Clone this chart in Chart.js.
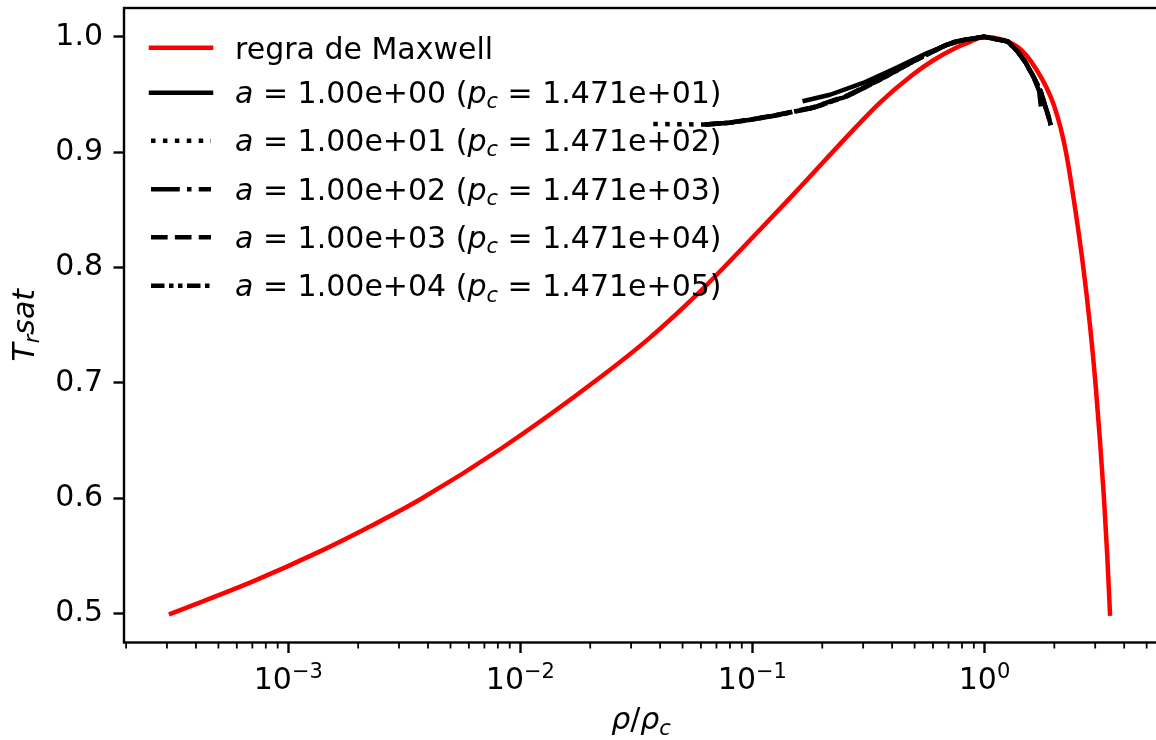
<!DOCTYPE html>
<html>
<head>
<meta charset="utf-8">
<script src="https://cdn.jsdelivr.net/npm/chart.js@4/dist/chart.umd.min.js"></script>
<style>
  html, body { margin: 0; padding: 0; background: #ffffff; overflow: hidden; }
  #wrap { width: 1162px; height: 740px; }
</style>
</head>
<body>
<div id="wrap"><canvas id="c" width="1162" height="740"></canvas></div>
<script>
// Saturation curve (Maxwell construction), reduced density rho/rho_c vs reduced temperature
const RHO_MAXWELL = [3.124e-4, 7.046e-4, 1.370e-3, 2.249e-3, 3.694e-3, 8.334e-3, 2.203e-2, 3.619e-2, 5.941e-2,
  0.1057, 0.1556, 0.2556, 0.3546, 0.4918, 0.5999, 0.7613, 0.8660, 1.0,
  1.121, 1.263, 1.401, 1.517, 1.684, 1.850, 1.993, 2.126, 2.247, 2.466, 2.666, 2.849, 3.009, 3.145, 3.273, 3.382, 3.474];
const T_MAXWELL = [0.5000, 0.5280, 0.5540, 0.5756, 0.5990, 0.6436, 0.7047, 0.7393, 0.7791,
  0.8311, 0.8667, 0.9135, 0.9430, 0.9673, 0.9795, 0.9909, 0.9957, 1.0,
  0.9987, 0.9960, 0.9908, 0.9838, 0.9708, 0.9561, 0.9405, 0.9214, 0.8997, 0.8494, 0.8000, 0.7497, 0.6995, 0.6501, 0.5999, 0.5496, 0.5000];

// Simulated coexistence densities for each value of a
const RHO_A1E0 = [0.168, 0.216, 0.30, 0.415, 0.56, 0.75, 1.0, 1.26, 1.38, 1.50, 1.62, 1.72, 1.745];
const T_A1E0   = [0.9446, 0.9498, 0.9600, 0.9730, 0.9855, 0.9960, 1.0, 0.9960, 0.9880, 0.9780, 0.9660, 0.9530, 0.9416];

const RHO_A1E1 = [0.0374, 0.050, 0.0625, 0.080, 0.0975, 0.1315, 0.183, 0.255, 0.355, 0.493, 0.687, 0.82, 1.0,
  1.26, 1.38, 1.50, 1.62, 1.745, 1.82, 1.88, 1.93];
const T_A1E1   = [0.9245, 0.9242, 0.9240, 0.9255, 0.9280, 0.9325, 0.9385, 0.9484, 0.9628, 0.9786, 0.9931, 0.9975, 1.0,
  0.9960, 0.9880, 0.9780, 0.9660, 0.9530, 0.9410, 0.9320, 0.9235];

const RHO_A1E2 = [0.0625, 0.080, 0.0975, 0.1315, 0.183, 0.255, 0.355, 0.493, 0.687, 0.82, 1.0,
  1.26, 1.38, 1.50, 1.62, 1.745, 1.82, 1.88, 1.93];
const T_A1E2   = [0.9240, 0.9255, 0.9280, 0.9325, 0.9385, 0.9484, 0.9628, 0.9786, 0.9931, 0.9975, 1.0,
  0.9960, 0.9880, 0.9780, 0.9660, 0.9530, 0.9410, 0.9320, 0.9235];

const RHO_A1E3 = [0.0625, 0.080, 0.0975, 0.1315, 0.183, 0.255, 0.355, 0.493, 0.687, 0.82, 1.0,
  1.26, 1.38, 1.50, 1.62, 1.745, 1.82, 1.88, 1.93];
const T_A1E3   = [0.9241, 0.9257, 0.9283, 0.9330, 0.9390, 0.9490, 0.9634, 0.9790, 0.9933, 0.9976, 1.0,
  0.9960, 0.9881, 0.9782, 0.9662, 0.9532, 0.9412, 0.9322, 0.9236];

const RHO_A1E4 = [0.0625, 0.080, 0.0975, 0.1315, 0.183, 0.255, 0.355, 0.493, 0.687, 0.82, 1.0,
  1.26, 1.38, 1.50, 1.62, 1.745, 1.82, 1.88, 1.93];
const T_A1E4   = [0.9240, 0.9256, 0.9281, 0.9327, 0.9387, 0.9486, 0.9630, 0.9787, 0.9932, 0.9975, 1.0,
  0.9960, 0.9880, 0.9781, 0.9661, 0.9531, 0.9411, 0.9321, 0.9235];

// Legend text pieces
const MAXWELL_LABEL = 'regra de Maxwell';
const A_LABELS  = ['1.00e+00', '1.00e+01', '1.00e+02', '1.00e+03', '1.00e+04'];
const PC_LABELS = ['1.471e+01', '1.471e+02', '1.471e+03', '1.471e+04', '1.471e+05'];

// Axis ticks
const X_TICKS = [1e-3, 1e-2, 1e-1, 1];
const X_TICK_EXP = ['\u22123', '\u22122', '\u22121', '0'];
const Y_TICKS = [0.5, 0.6, 0.7, 0.8, 0.9, 1.0];
const X_MIN = 1.959e-4, X_MAX = 5.594;
const Y_MIN = 0.475, Y_MAX = 1.025;

const FONT = '"DejaVu Sans", sans-serif';
const FS = 30, FS_SUB = 21, LW = 4.5;
Chart.defaults.font.family = FONT;

function pts(xs, ys) { return xs.map((v, i) => ({ x: v, y: ys[i] })); }

function blackSeries(xs, ys, dash, cap, idx) {
  return {
    label: idx, data: pts(xs, ys), showLine: true, pointRadius: 0, tension: 0,
    borderColor: '#000000', borderWidth: LW, borderDash: dash,
    borderCapStyle: cap, borderJoinStyle: 'round', order: 0
  };
}

const datasets = [
  {
    label: MAXWELL_LABEL, data: pts(RHO_MAXWELL, T_MAXWELL), showLine: true, pointRadius: 0,
    cubicInterpolationMode: 'monotone', borderColor: '#ff0000', borderWidth: LW,
    borderCapStyle: 'square', borderJoinStyle: 'round', order: 1
  },
  blackSeries(RHO_A1E0, T_A1E0, [], 'square', 0),
  blackSeries(RHO_A1E1, T_A1E1, [4.5, 7.425], 'butt', 1),
  blackSeries(RHO_A1E2, T_A1E2, [28.8, 7.2, 4.5, 7.2], 'butt', 2),
  blackSeries(RHO_A1E3, T_A1E3, [16.65, 7.2], 'butt', 3),
  blackSeries(RHO_A1E4, T_A1E4, [13.5, 4.5, 4.5, 4.5, 4.5, 4.5], 'butt', 4)
];

// text runs made of pieces {t, it, sub, sup}
function runWidth(ctx, parts) {
  let w = 0;
  for (const p of parts) {
    const size = (p.sub || p.sup) ? FS_SUB : FS;
    ctx.font = (p.it ? 'italic ' : '') + size + 'px ' + FONT;
    w += ctx.measureText(p.t).width;
  }
  return w;
}
function drawRun(ctx, parts, x, base) {
  for (const p of parts) {
    const size = (p.sub || p.sup) ? FS_SUB : FS;
    ctx.font = (p.it ? 'italic ' : '') + size + 'px ' + FONT;
    let yy = base;
    if (p.sub) yy += 5.5;
    if (p.sup) yy -= 11;
    ctx.fillText(p.t, x, yy);
    x += ctx.measureText(p.t).width;
  }
}

const decor = {
  id: 'decor',
  afterDraw(chart) {
    const ctx = chart.ctx, a = chart.chartArea;
    const xs = chart.scales.x;
    ctx.save();
    ctx.fillStyle = '#000';
    ctx.strokeStyle = '#000';
    ctx.textBaseline = 'alphabetic';
    ctx.textAlign = 'left';

    // frame
    ctx.lineWidth = 2.4;
    ctx.strokeRect(a.left, a.top, a.right - a.left, a.bottom - a.top);

    // minor ticks of the log axis
    ctx.lineWidth = 1.8;
    for (let e = -4; e <= 0; e++) {
      for (let k = 2; k <= 9; k++) {
        const v = k * Math.pow(10, e);
        if (v < xs.min || v > xs.max) continue;
        const px = xs.getPixelForValue(v);
        ctx.beginPath(); ctx.moveTo(px, a.bottom); ctx.lineTo(px, a.bottom + 6); ctx.stroke();
      }
    }

    // major tick labels 10^n
    X_TICKS.forEach((v, i) => {
      const px = xs.getPixelForValue(v);
      const parts = [{ t: '10' }, { t: X_TICK_EXP[i], sup: true }];
      const w = runWidth(ctx, parts);
      drawRun(ctx, parts, px - w / 2, a.bottom + 46);
    });

    // x title
    const xt = [{ t: '\u03c1', it: true }, { t: '/' }, { t: '\u03c1', it: true }, { t: 'c', it: true, sub: true }];
    const xw = runWidth(ctx, xt);
    drawRun(ctx, xt, (a.left + a.right) / 2 - xw / 2, 729);

    // y title
    const yt = [{ t: 'T', it: true }, { t: 'r', it: true, sub: true }, { t: 'sat', it: true }];
    const yw = runWidth(ctx, yt);
    ctx.save();
    ctx.translate(33.5, (a.top + a.bottom) / 2);
    ctx.rotate(-Math.PI / 2);
    drawRun(ctx, yt, -yw / 2, 0);
    ctx.restore();

    // legend
    const rowsY = [47.7, 92.7, 140.7, 189.3, 237.3, 285.7];
    const baseOff = [11.3, 10, 10, 10.2, 10.2, 10.3];
    const x0 = 151, x1 = 211, tx = 235;
    chart.data.datasets.forEach((ds, i) => {
      const y = rowsY[i];
      ctx.save();
      ctx.strokeStyle = ds.borderColor;
      ctx.lineWidth = ds.borderWidth;
      ctx.lineCap = ds.borderCapStyle;
      ctx.setLineDash(ds.borderDash || []);
      ctx.beginPath(); ctx.moveTo(x0, y); ctx.lineTo(x1, y); ctx.stroke();
      ctx.restore();
      let parts;
      if (i === 0) {
        parts = [{ t: MAXWELL_LABEL }];
      } else {
        const k = ds.label;
        parts = [{ t: 'a', it: true }, { t: ' = ' + A_LABELS[k] + ' (' }, { t: 'p', it: true },
                 { t: 'c', it: true, sub: true }, { t: ' = ' + PC_LABELS[k] + ')' }];
      }
      drawRun(ctx, parts, tx, y + baseOff[i]);
    });
    ctx.restore();
  }
};

new Chart(document.getElementById('c'), {
  type: 'scatter',
  data: { datasets },
  options: {
    responsive: false,
    animation: false,
    devicePixelRatio: 1,
    layout: { padding: { top: 8, right: 4, left: 0, bottom: 0 } },
    plugins: { legend: { display: false }, tooltip: { enabled: false } },
    scales: {
      x: {
        type: 'logarithmic', position: 'bottom', min: X_MIN, max: X_MAX,
        afterBuildTicks: (s) => { s.ticks = X_TICKS.map(v => ({ value: v, major: true })); },
        afterFit: (s) => { s.height = 740 - 642.5; s.paddingLeft = 0; s.paddingRight = 0; },
        ticks: { display: false },
        grid: { display: true, drawOnChartArea: false, drawTicks: true, tickLength: 10.5, tickWidth: 2.4, tickColor: '#000' },
        border: { display: false }
      },
      y: {
        type: 'linear', position: 'left', min: Y_MIN, max: Y_MAX,
        afterBuildTicks: (s) => { s.ticks = Y_TICKS.map(v => ({ value: v })); },
        afterFit: (s) => { s.width = 124; s.paddingTop = 0; s.paddingBottom = 0; },
        ticks: {
          callback: (v) => Number(v).toFixed(1), color: '#000', padding: 10.5,
          font: { size: FS, family: FONT }, autoSkip: false
        },
        grid: { display: true, drawOnChartArea: false, drawTicks: true, tickLength: 10.5, tickWidth: 2.4, tickColor: '#000' },
        border: { display: false }
      }
    }
  },
  plugins: [decor]
});
</script>
</body>
</html>
